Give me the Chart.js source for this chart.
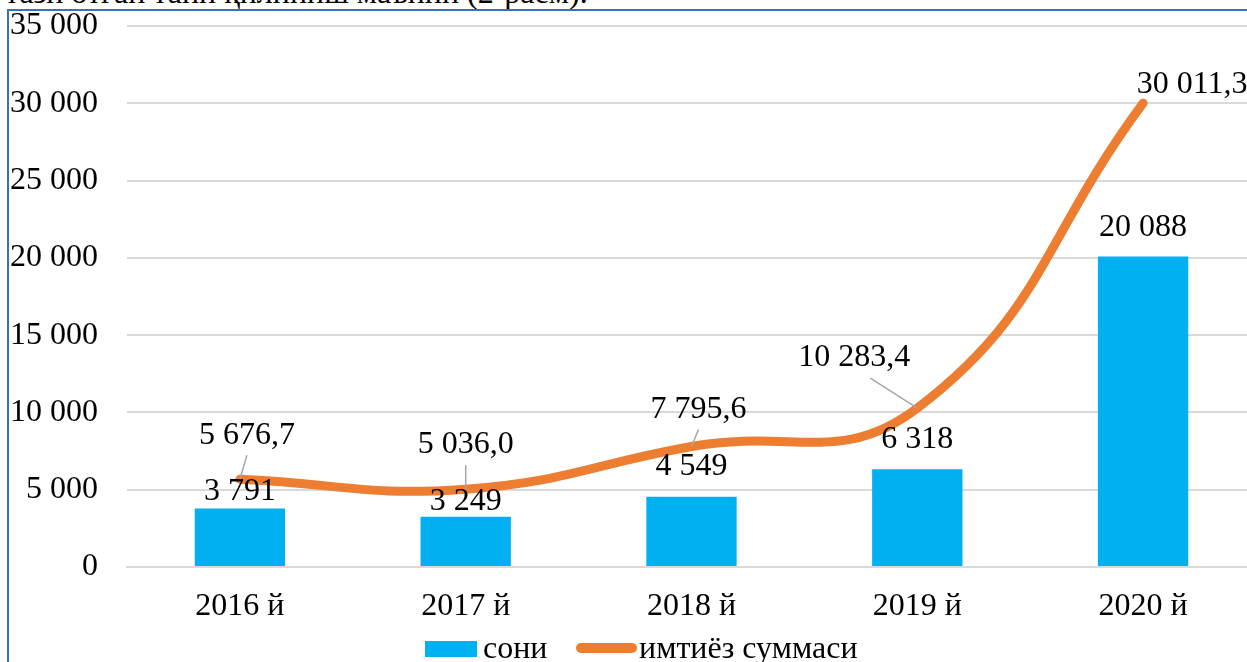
<!DOCTYPE html>
<html>
<head>
<meta charset="utf-8">
<script src="https://cdn.jsdelivr.net/npm/chart.js@4"></script>
<style>
    html, body { margin: 0; padding: 0; background: #fff; overflow: hidden; width: 1247px; height: 662px; }
    #wrap { position: absolute; left: 0; top: 0; width: 1256px; height: 662px; }
    .txt { position: absolute; font-family: "Liberation Serif", "Times New Roman", serif; font-size: 32px; line-height: 32px; color: #000; white-space: nowrap; }
    .frame-top { position: absolute; left: 7px; top: 9px; width: 1240px; height: 2px; background: #3572be; }
    .frame-left { position: absolute; left: 7px; top: 9px; width: 2px; height: 653px; background: #3572be; }
    .leg-box { position: absolute; left: 425px; top: 641px; width: 52px; height: 16px; background: #00b0f0; }
    .leg-line { position: absolute; left: 576px; top: 643px; width: 61px; height: 10px; border-radius: 5px; background: #ed7d31; }
</style>
</head>
<body>
<div class="txt" style="left:5px; top:-24px;">тазн отган тани қилиниш маънин (2-расм).</div>
<div id="wrap"><canvas id="chart"></canvas></div>
<div class="frame-top"></div>
<div class="frame-left"></div>
<div class="leg-box"></div>
<div class="txt" style="left:483px; top:631px;">сони</div>
<div class="leg-line"></div>
<div class="txt" style="left:639px; top:631px;">имтиёз суммаси</div>
<script>
// Data
const years = ['2016 й', '2017 й', '2018 й', '2019 й', '2020 й'];
const countValues = [3791, 3249, 4549, 6318, 20088];          // сони
const amountValues = [5676.7, 5036.0, 7795.6, 10283.4, 30011.3]; // имтиёз суммаси

const FONT = '"Liberation Serif", "Times New Roman", serif';

// label placement styles (pixels)
const barLabelLift = [17, 15, 30, 30, 29];
const lineLabelOffset = [[7, -44], [0, -45], [7, -37], [-63, -50], [49, -19]];
const leaderStart = [[0, 20], [0, 21], [0, 20], [16, 20], null];

function fmt(v, decimals) {
    const parts = v.toFixed(decimals).split('.');
    const intPart = parts[0].replace(/\B(?=(\d{3})+(?!\d))/g, ' ');
    return decimals ? intPart + ',' + parts[1] : intPart;
}

const labelPlugin = {
    id: 'valueLabels',
    afterDatasetsDraw(chart) {
        const ctx = chart.ctx;
        const barMeta = chart.getDatasetMeta(0);
        const lineMeta = chart.getDatasetMeta(1);
        ctx.save();
        ctx.font = '32px ' + FONT;
        ctx.fillStyle = '#000';
        ctx.textAlign = 'center';
        ctx.textBaseline = 'middle';

        barMeta.data.forEach((bar, i) => {
            ctx.fillText(fmt(countValues[i], 0), bar.x, bar.y - barLabelLift[i]);
        });

        lineMeta.data.forEach((pt, i) => {
            const lx = pt.x + lineLabelOffset[i][0];
            const ly = pt.y + lineLabelOffset[i][1];
            if (leaderStart[i]) {
                ctx.beginPath();
                ctx.strokeStyle = '#a6a6a6';
                ctx.lineWidth = 1.5;
                ctx.moveTo(lx + leaderStart[i][0], ly + leaderStart[i][1]);
                ctx.lineTo(pt.x, pt.y);
                ctx.stroke();
            }
            ctx.fillText(fmt(amountValues[i], 1), lx, ly);
        });
        ctx.restore();
    }
};

new Chart(document.getElementById('chart'), {
    type: 'bar',
    data: {
        labels: years,
        datasets: [
            {
                type: 'bar',
                label: 'сони',
                data: countValues,
                backgroundColor: '#00b0f0',
                borderWidth: 0,
                barPercentage: 0.4,
                categoryPercentage: 1.0,
                order: 2
            },
            {
                type: 'line',
                label: 'имтиёз суммаси',
                data: amountValues,
                borderColor: '#ed7d31',
                backgroundColor: 'transparent',
                borderWidth: 9,
                borderCapStyle: 'round',
                borderJoinStyle: 'round',
                pointRadius: 0,
                tension: 0.45,
                order: 1
            }
        ]
    },
    options: {
        responsive: true,
        maintainAspectRatio: false,
        animation: false,
        layout: { padding: { left: 0, right: 0, top: 26, bottom: 0 } },
        plugins: {
            legend: { display: false },
            tooltip: { enabled: false }
        },
        scales: {
            x: {
                grid: { display: false, drawTicks: false },
                border: { color: '#d9d9d9', width: 2 },
                ticks: {
                    color: '#000',
                    font: { family: FONT, size: 32 },
                    padding: 20
                },
                afterFit(scale) { scale.height = 95; }
            },
            y: {
                min: 0,
                max: 35000,
                grid: { color: '#d9d9d9', lineWidth: 2, drawTicks: false },
                border: { display: false },
                ticks: {
                    stepSize: 5000,
                    color: '#000',
                    padding: 29,
                    font: { family: FONT, size: 32 },
                    callback: v => fmt(v, 0)
                },
                afterFit(scale) {
                    scale.width = 127;
                    scale.paddingTop = 0;
                    scale.paddingBottom = 0;
                }
            }
        }
    },
    plugins: [labelPlugin]
});
</script>
</body>
</html>
